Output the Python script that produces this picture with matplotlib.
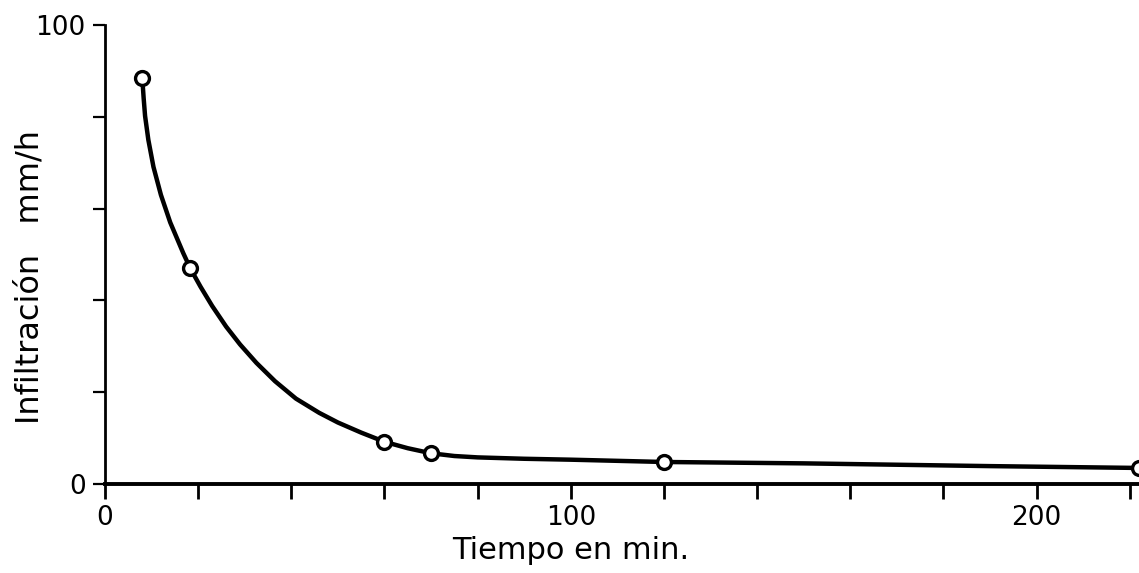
import numpy as np
import matplotlib.pyplot as plt

plt.rcParams['font.family'] = ['DejaVu Sans']

# measured points (open circles)
t_pts = [8.0, 18.3, 59.8, 69.9, 120.0, 222.0]
f_pts = [88.4, 47.0, 9.2, 6.7, 4.8, 3.5]

# hand-drawn curve
t_curve = [8.0, 8.3, 8.6, 9.3, 10.4, 12.0, 14.0, 16.8, 18.3, 20.5, 23.0, 26.0, 29.0,
           32.5, 36.5, 41.0, 46.0, 50.0, 55.0, 60.0, 65.0, 70.0, 75.0, 80.0, 90.0,
           100.0, 120.0, 150.0, 190.0, 222.0]
f_curve = [88.4, 84.0, 80.2, 75.0, 69.1, 63.0, 57.0, 50.3, 47.0, 43.0, 38.8, 34.3, 30.4,
           26.4, 22.4, 18.6, 15.5, 13.4, 11.2, 9.2, 7.8, 6.7, 6.1, 5.8, 5.5,
           5.3, 4.8, 4.5, 3.9, 3.5]

x_ticks = np.arange(0, 221, 20)
y_ticks = np.arange(0, 101, 20)
x_labels = {0: "0", 100: "100", 200: "200"}
y_labels = {0: "0", 100: "100"}

fig = plt.figure(figsize=(11.39, 5.73), dpi=100)
ax = fig.add_axes([0.0922, 0.1553, 0.9078, 0.801])

ax.plot(t_curve, f_curve, color='black', lw=3.2, solid_capstyle='round',
        solid_joinstyle='round', zorder=2)
ax.plot(t_pts, f_pts, 'o', ms=10, mfc='white', mec='black', mew=2.4, zorder=3, clip_on=False)

ax.set_xlim(0, 222)
ax.set_ylim(0, 100)
for s in ['top', 'right']:
    ax.spines[s].set_visible(False)
ax.spines['bottom'].set_linewidth(2.8)
ax.spines['left'].set_linewidth(2.0)

ax.set_xticks(x_ticks)
ax.set_xticklabels([x_labels.get(int(v), "") for v in x_ticks], fontsize=19)
ax.set_yticks(y_ticks)
ax.set_yticklabels([y_labels.get(int(v), "") for v in y_ticks], fontsize=19)
ax.tick_params(axis='x', direction='out', length=11, width=2, pad=4)
ax.tick_params(axis='y', direction='out', length=9, width=1.6, pad=5)

ax.set_xlabel("Tiempo en min.", fontsize=22)
ax.xaxis.set_label_coords(0.45, -0.113)
ax.set_ylabel("Infiltración   mm/h", fontsize=23)
ax.yaxis.set_label_coords(-0.058, 0.451)

fig.savefig("out.png", dpi=100)
